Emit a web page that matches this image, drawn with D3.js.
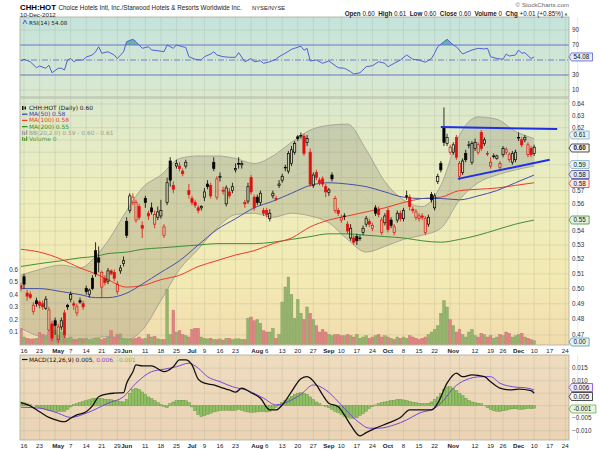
<!DOCTYPE html>
<html>
<head>
<meta charset="utf-8">
<script src="https://cdn.jsdelivr.net/npm/d3@7"></script>
<style>
  body { margin: 0; background: #fff; }
  svg text { font-family: "Liberation Sans", Arial, sans-serif; }
  svg text.leg { font-family: "DejaVu Sans", Verdana, sans-serif; }
</style>
</head>
<body>
<svg id="chart" width="600" height="450"></svg>
<script>
// ---- data (day 0 = 16 Apr 2012, first candle is day -1) ----
const holidays = ['2012-05-28', '2012-07-04', '2012-09-03', '2012-10-29', '2012-10-30', '2012-11-22', '2012-12-25'];
const tickDates = ['2012-04-16','2012-04-23','2012-05-01','2012-05-07','2012-05-14','2012-05-21','2012-05-29','2012-06-01','2012-06-11','2012-06-18','2012-06-25','2012-07-02','2012-07-09','2012-07-16','2012-07-23','2012-08-01','2012-08-06','2012-08-13','2012-08-20','2012-08-27','2012-09-04','2012-09-10','2012-09-17','2012-09-24','2012-10-01','2012-10-08','2012-10-15','2012-10-22','2012-11-01','2012-11-12','2012-11-19','2012-11-26','2012-12-03','2012-12-10','2012-12-17','2012-12-24'];
const tickLabels = ['16','23','May','7','14','21','29','Jun','11','18','25','Jul','9','16','23','Aug','6','13','20','27','Sep','10','17','24','Oct','8','15','22','Nov','12','19','26','Dec','10','17','24'];

const prevClose = 0.503;
const opens = [.502,.508,.497,.496,.485,.492,.491,.490,.487,.473,.477,.479,.467,.475,.484,.489,.493,.490,.484,.492,.490,.500,.496,.507,.526,.521,.501,.507,.505,.512,.511,.498,.512,.517,.547,.555,.561,.548,.558,.544,.564,.553,.557,.545,.550,.551,.537,.561,.593,.574,.589,.589,.585,.589,.570,.564,.561,.557,.557,.565,.575,.574,.592,.565,.580,.570,.560,.569,.570,.586,.591,.590,.561,.562,.580,.565,.565,.561,.555,.555,.549,.566,.564,.574,.578,.588,.585,.591,.600,.6125,.613,.613,.608,.600,.574,.584,.578,.579,.573,.5685,.582,.555,.555,.548,.551,.545,.535,.535,.536,.535,.539,.545,.547,.542,.557,.556,.539,.546,.555,.548,.539,.548,.553,.549,.566,.565,.556,.550,.549,.551,.539,.545,.567,.557,.577,.591,.620,.607,.600,.600,.612,.581,.584,.599,.6055,.592,.603,.600,.616,.607,.599,.589,.597,.595,.588,.598,.600,.594,.592,.594,.612,.610,.610,.598,.603,.599];
const highs = [.504,.510,.499,.498,.491,.494,.492,.492,.495,.488,.479,.481,.477,.481,.486,.490,.498,.492,.490,.494,.492,.502,.500,.509,.532,.529,.512,.509,.514,.513,.513,.505,.516,.522,.550,.568,.568,.563,.560,.547,.566,.555,.561,.555,.558,.563,.545,.580,.596,.577,.594,.592,.587,.594,.575,.566,.563,.559,.559,.572,.578,.576,.596,.581,.584,.573,.574,.572,.576,.591,.596,.593,.563,.576,.582,.567,.567,.570,.557,.557,.556,.570,.566,.578,.583,.590,.601,.605,.609,.614,.616,.615,.614,.603,.584,.586,.580,.581,.575,.572,.584,.566,.557,.552,.553,.547,.545,.537,.538,.537,.544,.551,.549,.546,.559,.558,.550,.553,.557,.550,.545,.555,.555,.557,.570,.567,.558,.556,.553,.553,.551,.552,.569,.568,.583,.593,.637,.615,.606,.608,.614,.593,.595,.602,.609,.609,.611,.608,.618,.612,.601,.596,.599,.598,.593,.605,.604,.600,.601,.602,.616,.612,.614,.608,.605,.606];
const lows = [.498,.500,.492,.493,.483,.488,.487,.486,.486,.472,.466,.470,.465,.473,.468,.486,.491,.486,.482,.490,.486,.496,.494,.499,.508,.511,.494,.502,.503,.509,.505,.496,.510,.515,.535,.553,.559,.546,.548,.535,.557,.548,.552,.542,.548,.549,.535,.559,.573,.568,.587,.585,.581,.587,.564,.559,.557,.553,.555,.562,.571,.564,.585,.563,.577,.567,.558,.564,.568,.584,.587,.587,.557,.560,.567,.555,.559,.559,.551,.550,.547,.564,.562,.572,.576,.585,.583,.589,.598,.609,.611,.597,.605,.573,.572,.578,.574,.573,.565,.566,.577,.553,.551,.546,.548,.538,.533,.530,.530,.533,.537,.543,.543,.540,.551,.550,.537,.544,.539,.542,.537,.546,.547,.547,.563,.555,.553,.548,.547,.548,.537,.543,.561,.555,.575,.584,.605,.605,.598,.598,.594,.578,.582,.592,.603,.590,.601,.598,.601,.605,.597,.587,.595,.594,.586,.596,.598,.592,.590,.592,.609,.604,.608,.596,.596,.597];
const closes = [.500,.503,.495,.494,.489,.490,.489,.488,.493,.486,.468,.476,.475,.479,.470,.488,.496,.489,.488,.491,.488,.498,.499,.500,.510,.518,.511,.504,.512,.510,.507,.503,.514,.519,.537,.566,.565,.561,.550,.542,.561,.551,.554,.552,.554,.555,.543,.576,.578,.571,.591,.587,.583,.592,.567,.561,.559,.555,.558,.569,.573,.566,.587,.579,.581,.570,.572,.566,.573,.587,.591,.591,.560,.573,.569,.557,.561,.568,.553,.552,.553,.568,.564,.575,.581,.588,.599,.602,.607,.611,.6135,.599,.611,.575,.582,.580,.576,.575,.569,.5705,.579,.564,.553,.550,.551,.540,.542,.532,.533,.535,.542,.549,.545,.544,.553,.552,.548,.551,.541,.544,.543,.553,.549,.555,.566,.558,.555,.554,.551,.550,.549,.550,.563,.566,.581,.586,.608,.612,.604,.606,.596,.591,.593,.594,.606,.607,.608,.606,.603,.610,.599,.592,.597,.597,.591,.603,.602,.598,.599,.600,.612,.606,.612,.606,.598,.604];
const volumes = [.13,.06,.05,.045,.045,.05,.095,.08,.07,.10,.155,.11,
  .07,.10,.11,.05,.06,.04,.04,.05,.045,.05,.035,.04,
  .05,.05,.04,.05,.06,.11,.06,.08,.085,.05,.045,.045,
  .045,.05,.06,.045,.05,.08,.06,.065,.045,.04,.04,.44,
  .08,.275,.10,.11,.08,.07,.06,.12,.13,.13,.06,.05,
  .045,.05,.04,.04,.045,.035,.05,.05,.04,.045,.045,.04,
  .04,.21,.22,.19,.20,.17,.11,.10,.10,.13,.05,.08,
  .34,.46,.54,.40,.21,.36,.25,.20,
  .30,.25,.20,.15,.10,.12,.10,.08,.07,.08,
  .08,.07,.07,.08,.07,.06,.08,.05,.06,.07,
  .05,.06,.07,.08,.06,.07,.06,.05,.04,.06,
  .05,.06,.05,.07,.06,.05,.04,.05,.06,.08,
  .10,.12,.15,.25,.35,.30,.20,.15,.10,.12,
  .08,.06,.10,.12,.07,.06,.09,.08,.06,.07,
  .05,.06,.08,.07,.10,.09,.06,.07,.08,.09,
  .06,.05,.04,.03];

const ma50Pts = [[-1,.500],[5,.500],[12,.498],[18,.496],[23,.494],[27,.494],[33,.497],[38,.503],[44,.511],[50,.519],[56,.530],[62,.541],[68,.549],[74,.557],[80,.562],[86,.568],[92,.574],[98,.576],[104,.575],[110,.573],[116,.569],[122,.565],[128,.564],[134,.564],[140,.563],[146,.566],[152,.570],[158,.576],[164,.582]];
const ma100Pts = [[-1,.527],[5,.525],[12,.520],[18,.514],[23,.510],[27,.506],[33,.501],[38,.502],[44,.506],[50,.509],[56,.515],[62,.519],[68,.523],[74,.526],[80,.531],[86,.535],[92,.543],[98,.548],[104,.551],[110,.554],[116,.557],[122,.561],[128,.564],[134,.565],[140,.570],[146,.571],[152,.572],[158,.574],[164,.576]];
const ma200Pts = [[-1,.515],[5,.517],[12,.519],[18,.521],[23,.522],[27,.524],[33,.525],[38,.527],[44,.528],[50,.529],[56,.530],[62,.531],[68,.531],[74,.531],[80,.532],[86,.534],[92,.536],[98,.538],[104,.538],[110,.537],[116,.536],[122,.535],[128,.533],[134,.532],[140,.534],[146,.537],[152,.541],[158,.545],[164,.548]];
const bbDays = [-1,5,12,18,23,27,33,38,44,50,56,62,68,74,80,86,92,98,104,110,116,122,128,134,140,146,152,158,164];
const bbUpper = [.509,.513,.516,.514,.522,.533,.555,.572,.582,.595,.597,.597,.595,.591,.597,.608,.618,.622,.623,.602,.577,.563,.558,.574,.614,.629,.627,.617,.611];
const bbLower = [.474,.469,.466,.466,.468,.469,.467,.473,.492,.513,.527,.542,.552,.553,.550,.553,.551,.546,.534,.525,.529,.534,.537,.542,.563,.576,.582,.586,.589];
const trendUpper = [[134, .6205], [171.4, .619]];
const trendLower = [[139.5, .579], [169, .594]];

const rsiPts = [[-1,48.7],[0,51],[2,47.7],[4,39.7],[5,42],[7,39],[8,43],[9,33],[11,39],[12,39],[13,36.7],[14,50],[15,52],[16,47.7],[17,50],[19,50],[20,54],[22,56.7],[23,61],[24,67.7],[25,59],[27,61],[29,56.7],[30,52],[32,61],[33,74.4],[35,77.6],[36,74.4],[38,65.6],[40,67.7],[41,63.3],[43,62.4],[45,61],[46,70],[48,65.6],[49,70],[51,67.7],[52,66.9],[53,54.4],[55,51],[57,50],[58,54.4],[60,58],[61,61],[62,56.7],[64,54.4],[66,53.6],[68,53.6],[69,59.8],[71,47.7],[73,52],[74,47.7],[76,49],[77,45.6],[79,47.7],[81,51],[82,54.4],[84,59],[86,64.3],[87,65.6],[89,68.5],[90,63],[91,65.6],[92,48.7],[94,50],[96,45.6],[98,48.7],[101,39.7],[103,39],[105,34.4],[106,31.3],[108,33],[110,41],[112,42.4],[114,47.7],[116,45.6],[117,41],[119,45.6],[121,50],[123,56.7],[125,51],[127,50],[129,47],[131,52],[132,59],[133,67.7],[135,74.4],[136,77.6],[138,70],[139,67.7],[141,58],[142,59.8],[144,63.3],[146,65.6],[148,64.7],[149,65.6],[150,54.4],[152,52],[154,51],[155,58],[156,55.3],[158,56.7],[159,63.3],[160,59],[161,59.8],[163,52],[164,54.08]];

// MACD values in thousandths
const macdPts = [[-1,1.2],[2,-0.1],[5,-2.4],[8,-4.7],[11,-6.0],[13,-6.4],[15,-5.0],[17,-3.7],[20,-2.4],[22,-0.1],[24,3.6],[27,4.7],[29,5.0],[32,5.2],[33,9.0],[35,13.6],[36,16.3],[38,15.9],[41,15.9],[45,13.6],[48,15.6],[50,18.3],[52,18.3],[54,16.3],[56,10.6],[58,9.0],[61,8.3],[64,7.0],[66,6.3],[68,5.4],[70,7.0],[73,5.2],[76,3.0],[79,-1.7],[81,-1.7],[83,0.3],[86,5.6],[89,10.8],[91,11.6],[94,8.3],[96,4.3],[98,1.0],[101,-0.4],[103,-3.7],[105,-7.7],[108,-12.1],[110,-10.8],[113,-9.0],[117,-7.0],[121,-4.7],[124,-1.7],[127,-1.7],[131,-1.7],[133,1.0],[136,9.0],[139,13.0],[141,11.6],[144,12.3],[148,11.6],[150,9.6],[153,7.0],[156,6.3],[159,6.6],[163,6.0],[164,5.0]];
const signalPts = [[-1,-0.6],[5,-1.0],[11,-3.0],[15,-4.7],[20,-3.0],[27,1.0],[32,3.6],[36,9.0],[41,13.6],[45,14.6],[49,15.6],[53,17.0],[56,15.0],[59,11.6],[63,9.6],[67,7.6],[72,6.0],[77,3.0],[81,0.3],[86,2.3],[89,4.5],[93,8.3],[97,6.3],[101,1.6],[105,-3.7],[108,-7.0],[111,-9.0],[114,-9.0],[119,-7.7],[123,-5.7],[127,-3.0],[132,-1.0],[135,2.3],[138,7.0],[142,10.3],[147,11.6],[150,11.6],[153,9.0],[157,7.6],[162,7.0],[164,6.3]];
const histValues = [1.5,1.2,0.8,0.4,0.0,
  -0.4,-0.8,-1.2,-1.5,-1.8,-2.0,-2.2,-2.4,-2.4,-2.3,-1.5,
  -0.5,0.4,0.8,1.2,1.6,2.0,2.4,2.8,3.0,
  3.0,2.8,2.6,2.5,2.4,2.2,2.0,1.6,
  1.5,2.5,
  5.0,6.5,7.0,6.5,5.5,
  4.5,3.5,2.8,2.0,1.2,0.5,-0.3,
  -0.8,0.8,1.5,2.0,2.2,2.2,2.0,1.2,
  -0.5,-2.0,-3.5,-4.4,-4.0,-3.5,
  -3.0,-2.5,-2.2,-2.0,-1.8,-1.8,-2.0,-2.0,-1.8,-1.5,-1.8,
  -2.2,-2.5,-2.6,-2.6,-2.5,-2.4,-2.4,-2.5,
  -2.2,-1.6,-0.6,0.4,1.2,
  2.0,3.0,3.8,4.5,5.0,5.2,
  5.0,4.6,3.5,2.5,
  1.5,0.8,0.2,-0.3,
  -0.8,-1.5,-2.2,-2.8,
  -3.5,-4.2,-4.6,-5.0,-5.0,-4.8,-4.0,
  -3.2,-2.2,-1.2,-0.4,
  0.3,0.8,1.2,1.5,1.7,
  2.0,2.2,2.5,2.5,2.3,2.0,
  1.6,1.4,1.2,1.0,0.8,0.8,1.0,
  1.5,2.5,3.5,5.0,
  6.5,7.5,7.6,7.0,6.0,
  5.0,4.0,3.0,2.0,1.5,
  1.2,1.0,0.8,0.2,
  -0.8,-1.5,-2.0,-2.2,-2.3,-2.0,-1.8,
  -1.5,-1.3,-1.2,-1.4,-1.5,-1.3,-1.0,-1.2,-1.0];

// ---- calendar ----
const fmtDay = d3.utcFormat('%Y-%m-%d');
const tradingDays = d3.utcDays(new Date(Date.UTC(2012, 3, 16)), new Date(Date.UTC(2013, 0, 1)))
  .filter(d => d.getUTCDay() % 6 !== 0 && !holidays.includes(fmtDay(d)));
const dayOf = s => tradingDays.findIndex(d => fmtDay(d) === s);
// first trading day of each week -> vertical grid
const weekStarts = tradingDays.map((d, i) => i).filter(i => i > 0 && tradingDays[i].getUTCDay() < tradingDays[i - 1].getUTCDay());
weekStarts.unshift(0);

// ---- layout ----
const X0 = 20, X1 = 569;
const P = {
  rsi: {top: 17, bottom: 97},
  main: {top: 98, bottom: 345},
  macd: {top: 355, bottom: 440}
};

const x = d3.scaleLinear().domain([-1.29, 175.2]).range([X0, X1]);
const yP = d3.scaleLog().domain([0.4637, 0.6451]).range([P.main.bottom, P.main.top]);
const yV = d3.scaleLinear().domain([0, 1]).range([344.5, 219.5]);
const yR = d3.scaleLinear().domain([0, 100]).range([97.5, 22.5]);
const yM = d3.scaleLinear().domain([-13.72, 20.28]).range([P.macd.bottom, P.macd.top]);

const svg = d3.select('#chart');
const defs = svg.append('defs');

function gradient(id, stops) {
  const g = defs.append('linearGradient').attr('id', id)
    .attr('x1', 0).attr('y1', 0).attr('x2', 0).attr('y2', 1);
  stops.forEach(s => g.append('stop').attr('offset', s[0]).attr('stop-color', s[1]));
}
gradient('gRsi', [[0, '#c4e3dc'], [1, '#dae9cf']]);
gradient('gMain', [[0, '#dae8cd'], [0.4, '#eeeebc'], [0.75, '#f4e9b3'], [1, '#f2dcae']]);
gradient('gMacd', [[0, '#efdcbf'], [1, '#ebd3b4']]);

Object.entries(P).forEach(([k, p]) => {
  defs.append('clipPath').attr('id', 'clip-' + k)
    .append('rect').attr('x', X0).attr('y', p.top).attr('width', X1 - X0).attr('height', p.bottom - p.top);
});

function panelBg(p, fill) {
  svg.append('rect').attr('x', X0).attr('y', p.top).attr('width', X1 - X0)
    .attr('height', p.bottom - p.top).attr('fill', fill);
}
panelBg(P.rsi, 'url(#gRsi)');
panelBg(P.main, 'url(#gMain)');
panelBg(P.macd, 'url(#gMacd)');

// vertical weekly grid in all panels
Object.values(P).forEach(p => {
  svg.append('g').selectAll('line').data(weekStarts).join('line')
    .attr('x1', d => x(d)).attr('x2', d => x(d))
    .attr('y1', p.top).attr('y2', p.bottom)
    .attr('stroke', '#9fa58f').attr('stroke-opacity', 0.35).attr('stroke-width', 0.7);
});

function hGrid(vals, scale) {
  svg.append('g').selectAll('line').data(vals).join('line')
    .attr('x1', X0).attr('x2', X1)
    .attr('y1', d => scale(d)).attr('y2', d => scale(d))
    .attr('stroke', '#9fa58f').attr('stroke-opacity', 0.35).attr('stroke-width', 0.7);
}
const priceTicks = d3.range(47, 65).map(v => v / 100);
const macdTicks = [-10, -5, 0, 5, 10, 15];
hGrid(priceTicks, yP);
hGrid([10, 90], yR);
hGrid(macdTicks, yM);

// ---- RSI panel ----
const rsi = svg.append('g').attr('clip-path', 'url(#clip-rsi)');
defs.append('clipPath').attr('id', 'clip-over70')
  .append('rect').attr('x', X0).attr('y', P.rsi.top).attr('width', X1 - X0).attr('height', yR(70) - P.rsi.top);
rsi.append('path').datum(rsiPts)
  .attr('clip-path', 'url(#clip-over70)')
  .attr('d', d3.area().x(d => x(d[0])).y0(yR(70)).y1(d => yR(d[1])))
  .attr('fill', '#4fa7a0').attr('fill-opacity', 0.8);
[70, 30].forEach(v => rsi.append('line').attr('x1', X0).attr('x2', X1)
  .attr('y1', yR(v)).attr('y2', yR(v)).attr('stroke', '#6a74c8').attr('stroke-width', 1));
rsi.append('line').attr('x1', X0).attr('x2', X1).attr('y1', yR(50)).attr('y2', yR(50))
  .attr('stroke', '#6a74c8').attr('stroke-width', 0.9).attr('stroke-dasharray', '6,2,1,2');
rsi.append('path').datum(rsiPts)
  .attr('d', d3.line().x(d => x(d[0])).y(d => yR(d[1])))
  .attr('fill', 'none').attr('stroke', '#4f5fd6').attr('stroke-width', 1);

// ---- main panel ----
const main = svg.append('g').attr('clip-path', 'url(#clip-main)');
const bars = opens.map((o, k) => ({
  day: k - 1, o, h: highs[k], l: lows[k], c: closes[k], v: volumes[k],
  prev: k ? closes[k - 1] : prevClose
}));

const bb = bbDays.map((d, i) => ({day: d, u: bbUpper[i], l: bbLower[i]}));
main.append('path').datum(bb)
  .attr('d', d3.area().curve(d3.curveMonotoneX).x(d => x(d.day)).y0(d => yP(d.l)).y1(d => yP(d.u)))
  .attr('fill', '#7c7c70').attr('fill-opacity', 0.27);

main.append('g').selectAll('rect').data(bars).join('rect')
  .attr('x', d => x(d.day) - 1.35).attr('width', 2.7)
  .attr('y', d => yV(d.v)).attr('height', d => yV(0) - yV(d.v))
  .attr('fill', d => d.c < d.prev ? '#dd8484' : '#95b46e')
  .attr('stroke', d => d.c < d.prev ? '#c96a6a' : '#7c9c58').attr('stroke-width', 0.4);

['u', 'l'].forEach(k => main.append('path').datum(bb)
  .attr('d', d3.line().curve(d3.curveMonotoneX).x(d => x(d.day)).y(d => yP(d[k])))
  .attr('fill', 'none').attr('stroke', '#9a9a90').attr('stroke-width', 0.8));
main.append('path').datum(bb)
  .attr('d', d3.line().curve(d3.curveMonotoneX).x(d => x(d.day)).y(d => yP((d.u + d.l) / 2)))
  .attr('fill', 'none').attr('stroke', '#b5b5aa').attr('stroke-width', 0.8).attr('stroke-dasharray', '1,1.5');

const maLine = d3.line().curve(d3.curveMonotoneX).x(d => x(d[0])).y(d => yP(d[1]));
[[ma200Pts, '#3f8f33'], [ma100Pts, '#ee3b2b'], [ma50Pts, '#4650a8']].forEach(([pts, col]) =>
  main.append('path').datum(pts).attr('d', maLine).attr('fill', 'none').attr('stroke', col).attr('stroke-width', 1));

// candles
const cg = main.append('g').selectAll('g').data(bars).join('g');
const candleColor = d => d.c < d.prev ? '#e01010' : '#000';
cg.append('line')
  .attr('x1', d => x(d.day)).attr('x2', d => x(d.day))
  .attr('y1', d => yP(d.h)).attr('y2', d => yP(Math.max(d.o, d.c)))
  .attr('stroke', candleColor).attr('stroke-width', 0.8);
cg.append('line')
  .attr('x1', d => x(d.day)).attr('x2', d => x(d.day))
  .attr('y1', d => yP(Math.min(d.o, d.c))).attr('y2', d => yP(d.l))
  .attr('stroke', candleColor).attr('stroke-width', 0.8);
cg.append('rect')
  .attr('x', d => x(d.day) - 1.1).attr('width', 2.2)
  .attr('y', d => yP(Math.max(d.o, d.c)))
  .attr('height', d => Math.max(0.6, yP(Math.min(d.o, d.c)) - yP(Math.max(d.o, d.c))))
  .attr('fill', d => d.c > d.o ? 'none' : candleColor(d))
  .attr('stroke', candleColor).attr('stroke-width', 0.7);

// trendlines
[trendUpper, trendLower].forEach(t => main.append('line')
  .attr('x1', x(t[0][0])).attr('y1', yP(t[0][1])).attr('x2', x(t[1][0])).attr('y2', yP(t[1][1]))
  .attr('stroke', '#1f2fe8').attr('stroke-width', 2));

// ---- MACD panel ----
const macd = svg.append('g').attr('clip-path', 'url(#clip-macd)');
macd.append('g').selectAll('rect').data(histValues).join('rect')
  .attr('x', (d, i) => x(i - 1) - 1.45).attr('width', 2.9)
  .attr('y', d => yM(Math.max(0, d))).attr('height', d => Math.abs(yM(0) - yM(d)))
  .attr('fill', '#8fc064').attr('stroke', '#5f8d3c').attr('stroke-width', 0.4);
const mLine = d3.line().curve(d3.curveMonotoneX).x(d => x(d[0])).y(d => yM(d[1]));
macd.append('path').datum(signalPts).attr('d', mLine).attr('fill', 'none').attr('stroke', '#7a45d8').attr('stroke-width', 1);
macd.append('path').datum(macdPts).attr('d', mLine).attr('fill', 'none').attr('stroke', '#111').attr('stroke-width', 1.3);

// panel borders
Object.values(P).forEach(p => svg.append('rect')
  .attr('x', X0).attr('y', p.top).attr('width', X1 - X0).attr('height', p.bottom - p.top)
  .attr('fill', 'none').attr('stroke', '#a8aca0').attr('stroke-width', 0.8));

// value tags on the right (y position, text, colours)
const tags = [
  [yR(54.08), '54.08', '#4f5fd6', '#e6ecf7'],
  [135, '0.61', '#7fb0c0', '#e6f2f4'],
  [148, '0.60', '#222', '#f3f3f3', true],
  [164.5, '0.59', '#7fb0c0', '#e6f2f4'],
  [174.5, '0.58', '#4650a8', '#e4e6f4'],
  [183.5, '0.58', '#ee3b2b', '#fbe8e4'],
  [220, '0.55', '#3f8f33', '#e5f2e0'],
  [342, '0.00', '#4f97a8', '#e6f2f4'],
  [387.5, '0.006', '#7a45d8', '#efe8fb'],
  [396.5, '0.005', '#222', '#f3f3f3'],
  [409, '-0.001', '#6fae4a', '#e8f4e0']
];
const freeOfTags = yy => tags.every(t => Math.abs(t[0] - yy) > 6);

// ---- axes text ----
function rightLabels(vals, scale, fmt) {
  svg.append('g').selectAll('text').data(vals.filter(d => freeOfTags(scale(d)))).join('text')
    .attr('x', 572).attr('y', d => scale(d) + 2.2)
    .attr('font-size', 6.3).attr('fill', '#333').text(fmt);
}
rightLabels([10, 30, 50, 70, 90], yR, d => d);
rightLabels(priceTicks, yP, d3.format('.2f'));
rightLabels(macdTicks, yM, d => d3.format('.3f')(d / 1000));
svg.append('g').selectAll('text').data([0.1, 0.2, 0.3, 0.4, 0.5, 0.6]).join('text')
  .attr('x', 18).attr('y', d => yV(d) + 2.2).attr('text-anchor', 'end')
  .attr('font-size', 6.3).attr('fill', '#333').text(d => d);

[352.5, 447.5].forEach(yy => {
  svg.append('g').selectAll('text').data(tickDates).join('text')
    .attr('x', d => x(dayOf(d))).attr('y', yy).attr('text-anchor', 'middle')
    .attr('font-size', 6.2).attr('fill', '#222')
    .attr('font-weight', (d, i) => /[A-Za-z]/.test(tickLabels[i]) ? 'bold' : 'normal')
    .text((d, i) => tickLabels[i]);
});

tags.forEach(([y, txt, stroke, fill, bold]) => {
  const g = svg.append('g');
  const w = txt.length * 3.4 + 4;
  g.append('path')
    .attr('d', `M569,${y} L571.5,${y - 4} L${571.5 + w},${y - 4} L${571.5 + w},${y + 4} L571.5,${y + 4} Z`)
    .attr('fill', fill).attr('stroke', stroke).attr('stroke-width', 0.8);
  g.append('text').attr('x', 573.5).attr('y', y + 2.2).attr('font-size', 6.3)
    .attr('font-weight', bold ? 'bold' : 'normal').attr('fill', '#111').text(txt);
});

// ---- header ----
svg.append('text').attr('x', 20).attr('y', 10).attr('font-size', 7.8).attr('font-weight', 'bold').text('CHH:HOT');
svg.append('text').attr('x', 58.5).attr('y', 10).attr('font-size', 6.3).attr('fill', '#222')
  .text('Choice Hotels Intl, Inc./Starwood Hotels & Resorts Worldwide Inc.');
svg.append('text').attr('x', 252).attr('y', 10).attr('font-size', 5.8).attr('fill', '#222').text('NYSE/NYSE');
svg.append('text').attr('x', 20).attr('y', 16.5).attr('font-size', 6.2).attr('fill', '#222').text('10-Dec-2012');
svg.append('text').attr('x', 569).attr('y', 6.5).attr('text-anchor', 'end').attr('font-size', 6.2).attr('fill', '#666').text('\u00a9 StockCharts.com');

const ohlc = svg.append('text').attr('x', 563).attr('y', 15.8).attr('text-anchor', 'end').attr('font-size', 6.3).attr('fill', '#222');
[['Open', ' 0.60  '], ['High', ' 0.61  '], ['Low', ' 0.60  '], ['Close', ' 0.60  '], ['Volume', ' 0  '], ['Chg', ' +0.01 (+0.85%)']]
  .forEach(([a, b]) => {
    ohlc.append('tspan').attr('font-weight', 'bold').text(a);
    ohlc.append('tspan').attr('xml:space', 'preserve').text(b);
  });
svg.append('path').attr('d', 'M564.5,15.5 L567.5,15.5 L566,12.5 Z').attr('fill', '#3a9a3a');

// RSI label
svg.append('path').attr('d', 'M23,24 L25,20 L27,24').attr('fill', 'none').attr('stroke', '#4f5fd6').attr('stroke-width', 1);
svg.append('text').attr('class', 'leg').attr('x', 29).attr('y', 24.5).attr('font-size', 5.6).attr('fill', '#222').text('RSI(14) 54.08');

// main legend
const legend = [
  ['CHH:HOT (Daily) 0.60', '#111'],
  ['MA(50) 0.58', '#3440b0'],
  ['MA(100) 0.58', '#ee3b2b'],
  ['MA(200) 0.55', '#2f8f2a'],
  ['BB(20,2.0) 0.59 - 0.60 - 0.61', '#9a9a90'],
  ['Volume 0', '#5a9a3a']
];
legend.forEach(([t, col], i) => {
  const yy = 110 + i * 6.2;
  if (i === 0) {
    svg.append('rect').attr('x', 22).attr('y', yy - 4).attr('width', 1.5).attr('height', 4).attr('fill', '#111');
    svg.append('rect').attr('x', 24.5).attr('y', yy - 3.5).attr('width', 1.5).attr('height', 3).attr('fill', '#111');
  } else if (i < 4) {
    svg.append('line').attr('x1', 22).attr('x2', 27.5).attr('y1', yy - 2).attr('y2', yy - 2).attr('stroke', col).attr('stroke-width', 1.2);
  } else {
    svg.append('rect').attr('x', 22).attr('y', yy - 4).attr('width', 1.3).attr('height', 4).attr('fill', col);
    svg.append('rect').attr('x', 24).attr('y', yy - 3).attr('width', 1.3).attr('height', 3).attr('fill', col);
    svg.append('rect').attr('x', 26).attr('y', yy - 4.5).attr('width', 1.3).attr('height', 4.5).attr('fill', col);
  }
  svg.append('text').attr('class', 'leg').attr('x', 29).attr('y', yy).attr('font-size', 5.9).attr('fill', col).text(t);
});

// MACD label
svg.append('line').attr('x1', 22).attr('x2', 27.5).attr('y1', 359.5).attr('y2', 359.5).attr('stroke', '#111').attr('stroke-width', 1.2);
const ml = svg.append('text').attr('class', 'leg').attr('x', 29).attr('y', 361.5).attr('font-size', 5.9);
ml.append('tspan').attr('fill', '#111').text('MACD(12,26,9) 0.005');
ml.append('tspan').attr('fill', '#7a45d8').text(', 0.006');
ml.append('tspan').attr('fill', '#7ab84f').text(', -0.001');
</script>
</body>
</html>
